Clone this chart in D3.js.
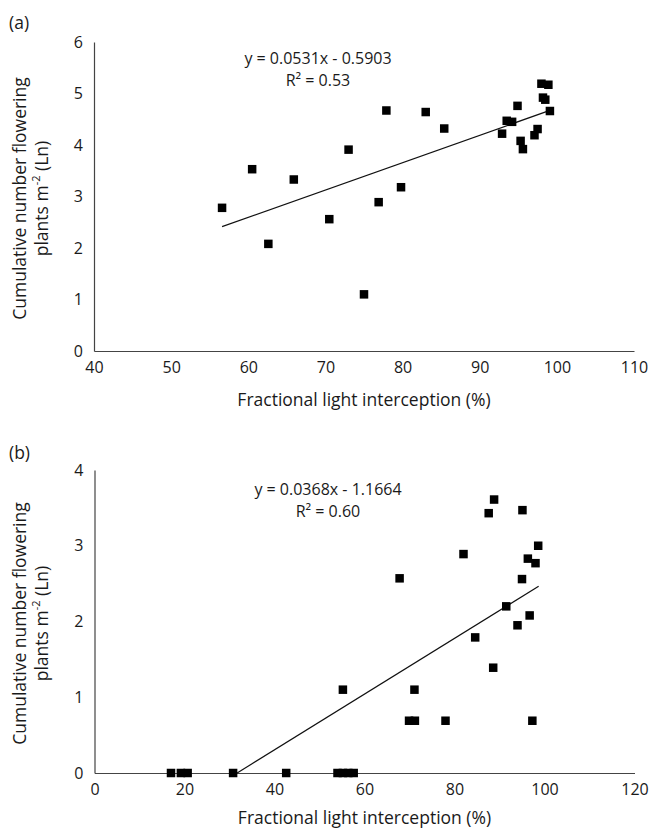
<!DOCTYPE html>
<html>
<head>
<meta charset="utf-8">
<script src="https://cdn.jsdelivr.net/npm/d3@7"></script>
<style>
  html, body { margin: 0; padding: 0; background: #fff; }
  svg { display: block; }
  text { font-family: "Open Sans", sans-serif; fill: #1a1a1a; }
</style>
</head>
<body>
<svg id="chart" width="650" height="831"></svg>
<script>
// ---------- Data: panel (a) ----------
const aX = [56.6, 60.5, 62.6, 65.9, 70.5, 73.0, 75.0, 76.9, 77.9, 79.8, 83.0, 85.4,
            92.9, 93.5, 94.2, 94.9, 95.3, 95.6, 97.1, 97.5, 98.0, 98.9, 98.2, 98.5, 99.1];
const aY = [2.78, 3.53, 2.08, 3.33, 2.56, 3.91, 1.10, 2.89, 4.67, 3.18, 4.64, 4.32,
            4.22, 4.47, 4.45, 4.76, 4.08, 3.92, 4.19, 4.31, 5.19, 5.17, 4.92, 4.88, 4.66];
const aSlope = 0.0531, aIntercept = -0.5903;
const aTrendX = [56.6, 99.1];
const aEq = "y = 0.0531x - 0.5903";
const aR2 = "R\u00B2 = 0.53";
const aXTicks = [40, 50, 60, 70, 80, 90, 100, 110];
const aYTicks = [0, 1, 2, 3, 4, 5, 6];

// ---------- Data: panel (b) ----------
const bX = [17.0, 19.2, 20.7, 30.8, 42.6, 54.0, 55.2, 56.4, 57.6,
            55.2, 67.8, 69.9, 71.2, 71.1, 78.0, 82.0, 84.6, 87.6, 88.8, 88.6,
            91.5, 94.0, 95.1, 95.0, 96.3, 96.7, 97.3, 98.0, 98.6];
const bY = [0, 0, 0, 0, 0, 0, 0, 0, 0,
            1.10, 2.57, 0.69, 0.69, 1.10, 0.69, 2.89, 1.79, 3.43, 3.61, 1.39,
            2.20, 1.95, 3.47, 2.56, 2.83, 2.08, 0.69, 2.77, 3.00];
const bSlope = 0.0368, bIntercept = -1.1664;
const bTrendX = [31.7, 98.7];
const bEq = "y = 0.0368x - 1.1664";
const bR2 = "R\u00B2 = 0.60";
const bXTicks = [0, 20, 40, 60, 80, 100, 120];
const bYTicks = [0, 1, 2, 3, 4];

const xTitle = "Fractional light interception (%)";
const yTitle1 = "Cumulative number flowering";

const svg = d3.select("#chart");
const AXIS_COLOR = "#444";
const FS = 16;
const TFS = 17.5;
const fmt = d3.format("d");

function panel(cfg) {
  const x = d3.scaleLinear().domain(cfg.xDomain).range([cfg.left, cfg.right]);
  const y = d3.scaleLinear().domain(cfg.yDomain).range([cfg.bottom, cfg.top]);
  const g = svg.append("g");

  // x axis
  const xa = g.append("g")
    .attr("transform", `translate(0,${cfg.bottom})`)
    .call(d3.axisBottom(x).tickValues(cfg.xTicks).tickFormat(fmt).tickSize(0).tickSizeOuter(0).tickPadding(11));
  xa.select(".domain").attr("stroke", AXIS_COLOR).attr("stroke-width", 1.2);
  xa.selectAll("text").attr("font-size", FS).attr("font-family", "Open Sans").attr("fill", "#1a1a1a");

  // y axis
  const ya = g.append("g")
    .attr("transform", `translate(${cfg.left},0)`)
    .call(d3.axisLeft(y).tickValues(cfg.yTicks).tickFormat(fmt).tickSize(0).tickSizeOuter(0).tickPadding(11));
  ya.select(".domain").attr("stroke", AXIS_COLOR).attr("stroke-width", 1.2);
  ya.selectAll("text").attr("font-size", FS).attr("font-family", "Open Sans").attr("fill", "#1a1a1a");

  // trendline
  const line = d3.line().x(d => x(d)).y(d => y(cfg.slope * d + cfg.intercept));
  g.append("path").datum(cfg.trendX).attr("d", line)
    .attr("fill", "none").attr("stroke", "#111").attr("stroke-width", 1.2);

  // points
  const s = 8.5;
  g.selectAll("rect.pt").data(cfg.xs.map((v, i) => [v, cfg.ys[i]])).join("rect")
    .attr("class", "pt")
    .attr("x", d => x(d[0]) - s / 2).attr("y", d => y(d[1]) - s / 2)
    .attr("width", s).attr("height", s).attr("fill", "#000");

  // equation
  g.append("text").attr("x", cfg.eqX).attr("y", cfg.eqY).attr("text-anchor", "middle")
    .attr("dominant-baseline", "central").attr("font-size", FS).text(cfg.eq);
  g.append("text").attr("x", cfg.eqX).attr("y", cfg.eqY + 22).attr("text-anchor", "middle")
    .attr("dominant-baseline", "central").attr("font-size", FS).text(cfg.r2);

  // x title
  g.append("text").attr("x", (cfg.left + cfg.right) / 2).attr("y", cfg.bottom + cfg.titleOff)
    .attr("text-anchor", "middle").attr("dominant-baseline", "central")
    .attr("font-size", TFS).text(xTitle);

  // y title (two lines)
  const cy = (cfg.top + cfg.bottom) / 2 + 2;
  g.append("text").attr("transform", `translate(19,${cy}) rotate(-90)`)
    .attr("text-anchor", "middle").attr("dominant-baseline", "central")
    .attr("font-size", TFS).text(yTitle1);
  const t2 = g.append("text").attr("transform", `translate(41,${cy}) rotate(-90)`)
    .attr("text-anchor", "middle").attr("dominant-baseline", "central")
    .attr("font-size", TFS);
  t2.append("tspan").text("plants m");
  t2.append("tspan").attr("font-size", 11).attr("dy", -6).text("-2");
  t2.append("tspan").attr("dy", 6).text(" (Ln)");

  // panel label
  g.append("text").attr("x", 9).attr("y", cfg.labelY).attr("dominant-baseline", "central")
    .attr("font-size", TFS).text(cfg.label);
}

panel({
  xDomain: [40, 110], yDomain: [0, 6], left: 94, right: 634, top: 42, bottom: 351,
  xTicks: aXTicks, yTicks: aYTicks, xs: aX, ys: aY,
  slope: aSlope, intercept: aIntercept, trendX: aTrendX, titleOff: 48,
  eq: aEq, r2: aR2, eqX: 318, eqY: 58, label: "(a)", labelY: 22
});

panel({
  xDomain: [0, 120], yDomain: [0, 4], left: 94.5, right: 634.5, top: 470, bottom: 773,
  xTicks: bXTicks, yTicks: bYTicks, xs: bX, ys: bY,
  slope: bSlope, intercept: bIntercept, trendX: bTrendX, titleOff: 44,
  eq: bEq, r2: bR2, eqX: 328, eqY: 489, label: "(b)", labelY: 452
});
</script>
</body>
</html>
